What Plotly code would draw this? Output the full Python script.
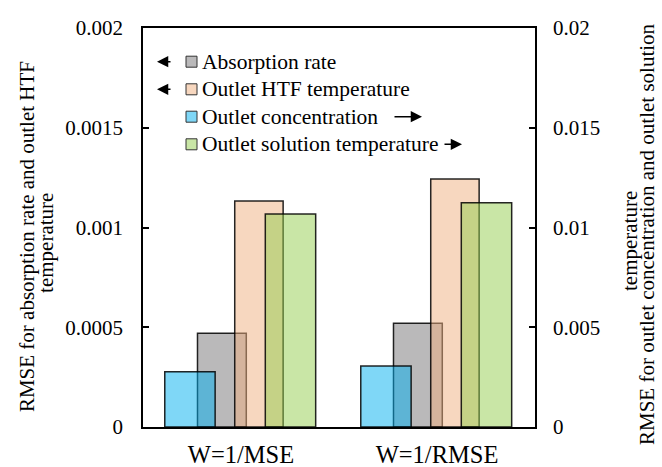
import plotly.graph_objects as go

categories = ["W=1/MSE", "W=1/RMSE"]
absorption_rate = [0.00047, 0.00052]
outlet_htf_temp = [0.001133, 0.001243]
outlet_concentration = [0.00277, 0.00306]
outlet_solution_temp = [0.01068, 0.01124]

series_names = ["Absorption rate", "Outlet HTF temperature",
                "Outlet concentration", "Outlet solution temperature"]

left_tickvals = [0, 0.0005, 0.001, 0.0015, 0.002]
left_ticktext = ["0", "0.0005", "0.001", "0.0015", "0.002"]
right_tickvals = [0, 0.005, 0.01, 0.015, 0.02]
right_ticktext = ["0", "0.005", "0.01", "0.015", "0.02"]

left_title = ["RMSE for absorption rate and outlet HTF", "temperature"]
right_title = ["RMSE for outlet concentration and outlet solution", "temperature"]

FONT = "Liberation Serif"
fills = ["rgba(117,115,117,0.5)", "rgba(239,175,127,0.5)",
         "rgba(0,175,239,0.5)", "rgba(147,205,77,0.5)"]
swatch = ["#BAB9BA", "#F7D7BF", "#7FD7F7", "#C9E6A6"]
outline = "rgba(0,0,0,0.85)"

fig = go.Figure()
# primary axis bars
fig.add_trace(go.Bar(x=categories, y=absorption_rate, name=series_names[0],
                     width=0.249, offset=-0.222, yaxis="y",
                     marker=dict(color=fills[0], line=dict(color=outline, width=1.5))))
fig.add_trace(go.Bar(x=categories, y=outlet_htf_temp, name=series_names[1],
                     width=0.247, offset=-0.032, yaxis="y",
                     marker=dict(color=fills[1], line=dict(color=outline, width=1.5))))
# secondary axis bars
fig.add_trace(go.Bar(x=categories, y=outlet_concentration, name=series_names[2],
                     width=0.257, offset=-0.389, yaxis="y2",
                     marker=dict(color=fills[2], line=dict(color=outline, width=1.5))))
fig.add_trace(go.Bar(x=categories, y=outlet_solution_temp, name=series_names[3],
                     width=0.257, offset=0.124, yaxis="y2",
                     marker=dict(color=fills[3], line=dict(color=outline, width=1.5))))

W, H = 662, 467
L, R, T, B = 143, 127, 28, 40
pw, ph = W - L - R, H - T - B


def px(x):
    return (x - L) / pw


def py(y):
    return (H - B - y) / ph


annotations = []
shapes = []
rows = [61.7, 89.3, 116.7, 144.3]
for i, name in enumerate(series_names):
    yc = py(rows[i])
    hs = 5.5 / ph
    shapes.append(dict(type="rect", xref="paper", yref="paper",
                       x0=px(186), x1=px(197), y0=yc - hs, y1=yc + hs,
                       fillcolor=swatch[i], line=dict(color="#333333", width=1)))
    annotations.append(dict(xref="paper", yref="paper", x=px(200), y=yc,
                            xanchor="left", yanchor="middle", text=name,
                            showarrow=False, font=dict(family=FONT, size=21.5, color="black")))

arrows = [(157, 15), (157, 15), (422, -29), (462, -19)]
for i, (hx, dx) in enumerate(arrows):
    annotations.append(dict(xref="paper", yref="paper", x=px(hx), y=py(rows[i]),
                            ax=dx, ay=0, text="", showarrow=True, arrowhead=2,
                            arrowsize=1.5, arrowwidth=1.5, arrowcolor="black", standoff=0))

title_pos = [(left_title[0], 27.6, 236.5), (left_title[1], 45.9, 243),
             (right_title[0], 646.5, 234.5), (right_title[1], 630, 241)]
for txt, x, y in title_pos:
    annotations.append(dict(xref="paper", yref="paper", x=px(x), y=py(y),
                            xanchor="center", yanchor="middle", text=txt, textangle=-90,
                            showarrow=False, font=dict(family=FONT, size=21, color="black")))

fig.update_layout(
    width=W, height=H, autosize=False,
    margin=dict(l=L, r=R, t=T, b=B, pad=0, autoexpand=False),
    paper_bgcolor="white", plot_bgcolor="white",
    barmode="overlay", showlegend=False,
    font=dict(family=FONT, size=21, color="black"),
    xaxis=dict(type="category", range=[-0.5, 1.5], showline=True, linecolor="black",
               linewidth=1.5, mirror=True, ticks="", showgrid=False, zeroline=False,
               automargin=False, ticklabelstandoff=5,
               tickfont=dict(family=FONT, size=24.5, color="black")),
    yaxis=dict(range=[0, 0.002], tickvals=left_tickvals, ticktext=left_ticktext,
               ticks="inside", ticklen=6, tickcolor="black", tickwidth=1.5,
               showline=True, linecolor="black", linewidth=1.5, automargin=False,
               showgrid=False, zeroline=False, ticklabelstandoff=14,
               tickfont=dict(family=FONT, size=21, color="black")),
    yaxis2=dict(range=[0, 0.02], tickvals=right_tickvals, ticktext=right_ticktext,
                overlaying="y", side="right", automargin=False,
                ticks="inside", ticklen=6, tickcolor="black", tickwidth=1.5,
                showline=True, linecolor="black", linewidth=1.5,
                showgrid=False, zeroline=False, ticklabelstandoff=12,
                tickfont=dict(family=FONT, size=21, color="black")),
    annotations=annotations, shapes=shapes,
)

fig.write_html("out.html")
